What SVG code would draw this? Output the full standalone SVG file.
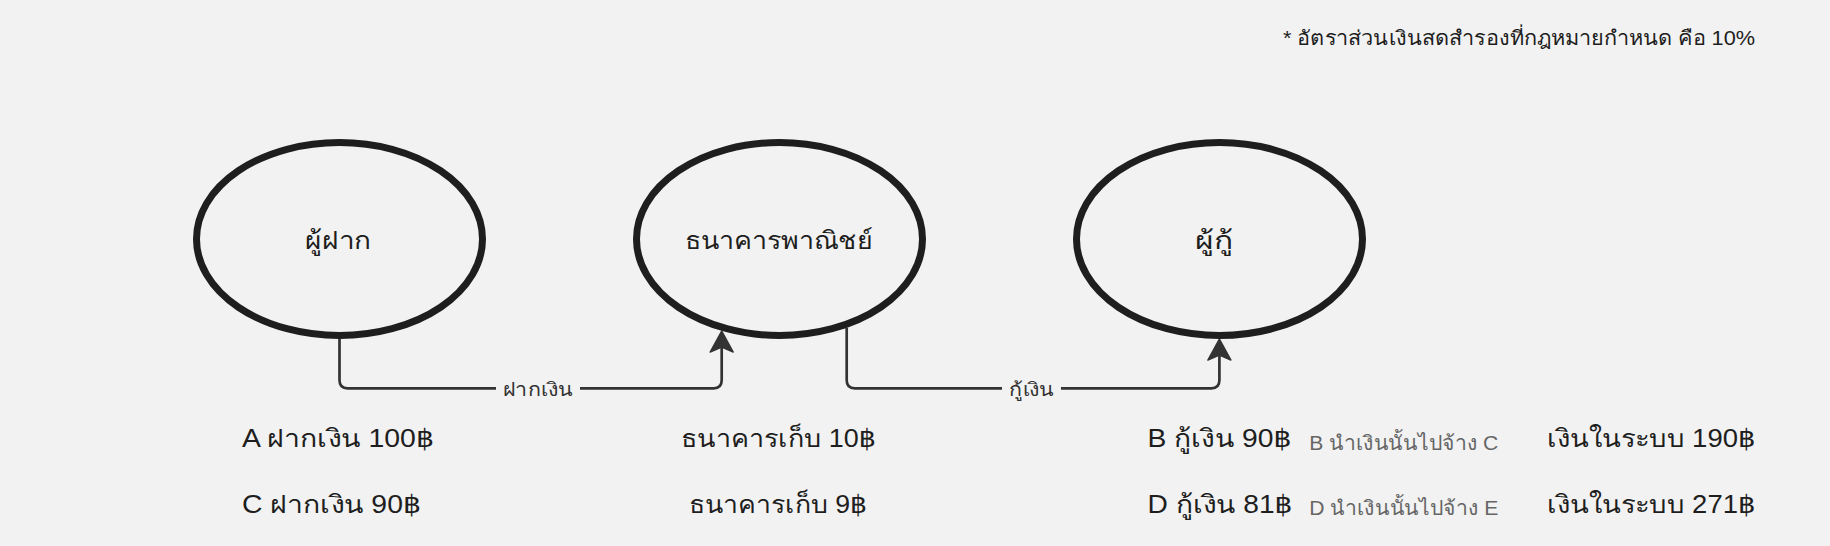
<svg xmlns="http://www.w3.org/2000/svg" width="1830" height="546" viewBox="0 0 1830 546">
<style>
  .bg { fill: #f2f2f2; }
  .node { fill: #f2f2f2; stroke: #1e1e1e; stroke-width: 7; }
  .ntext { font-family: "Liberation Sans", "Noto Sans", "DejaVu Sans", sans-serif; font-size: 25px; fill: #1e1e1e; text-anchor: middle; }
  .t { font-family: "Liberation Sans", "Noto Sans", "DejaVu Sans", sans-serif; font-size: 25px; fill: #1e1e1e; }
  .tc { text-anchor: middle; }
  .gray { font-size: 20px; fill: #666666; }
  .note { font-size: 20px; }
  .edge { fill: none; stroke: #333333; stroke-width: 2.7; }
  .lblbg { fill: #f2f2f2; }
  .lbl { font-family: "Liberation Sans", "Noto Sans", "DejaVu Sans", sans-serif; font-size: 19px; fill: #333333; text-anchor: middle; }
</style>
<defs>
  <marker id="arrow" markerUnits="userSpaceOnUse" viewBox="-23 -13 26 26" markerWidth="26" markerHeight="26" refX="-10" refY="0" orient="auto" overflow="visible">
    <path d="M0,0 L-21,-11.5 L-16,0 L-21,11.5 Z" fill="#333333" stroke="#333333" stroke-width="1.5" stroke-linejoin="round"/>
  </marker>
</defs>
<rect class="bg" x="0" y="0" width="1830" height="546"/>

<g id="connectors">
  <g id="edge-deposit">
    <path class="edge" d="M339.5 339 V380.3 Q339.5 388.3 347.5 388.3 H713.7 Q721.7 388.3 721.7 380.3 V341" marker-end="url(#arrow)"/>
    <rect class="lblbg" x="496" y="376" width="84" height="26"/>
    <text class="lbl" x="538" y="396" textLength="70" lengthAdjust="spacingAndGlyphs">ฝากเงิน</text>
  </g>
  <g id="edge-loan">
    <path class="edge" d="M846.7 328 V380.3 Q846.7 388.3 854.7 388.3 H1211.4 Q1219.4 388.3 1219.4 380.3 V349" marker-end="url(#arrow)"/>
    <rect class="lblbg" x="1002" y="376" width="59" height="26"/>
    <text class="lbl" x="1031.5" y="396" textLength="45" lengthAdjust="spacingAndGlyphs">กู้เงิน</text>
  </g>
</g>

<g id="node-depositor">
  <ellipse class="node" cx="339.5" cy="239" rx="143" ry="96.5"/>
  <text class="ntext" x="338" y="249" textLength="66" lengthAdjust="spacingAndGlyphs">ผู้ฝาก</text>
</g>
<g id="node-bank">
  <ellipse class="node" cx="779.5" cy="239" rx="143" ry="96.5"/>
  <text class="ntext" x="778.7" y="249" textLength="188" lengthAdjust="spacingAndGlyphs">ธนาคารพาณิชย์</text>
</g>
<g id="node-borrower">
  <ellipse class="node" cx="1219.5" cy="239" rx="143" ry="96.5"/>
  <text class="ntext" x="1214.3" y="249" textLength="38" lengthAdjust="spacingAndGlyphs">ผู้กู้</text>
</g>

<g id="notes">
  <text class="t note" x="1283" y="45" textLength="472" lengthAdjust="spacingAndGlyphs">* อัตราส่วนเงินสดสำรองที่กฎหมายกำหนด คือ 10%</text>
  <text class="t" x="242" y="447" textLength="192" lengthAdjust="spacingAndGlyphs">A ฝากเงิน 100฿</text>
  <text class="t" x="242" y="512.5" textLength="179" lengthAdjust="spacingAndGlyphs">C ฝากเงิน 90฿</text>
  <text class="t" x="681" y="447" textLength="195" lengthAdjust="spacingAndGlyphs">ธนาคารเก็บ 10฿</text>
  <text class="t" x="689" y="512.5" textLength="178" lengthAdjust="spacingAndGlyphs">ธนาคารเก็บ 9฿</text>
  <text class="t" x="1147.5" y="447" textLength="144" lengthAdjust="spacingAndGlyphs">B กู้เงิน 90฿</text>
  <text class="t gray" x="1309.3" y="450" textLength="189" lengthAdjust="spacingAndGlyphs">B นำเงินนั้นไปจ้าง C</text>
  <text class="t" x="1547" y="447" textLength="208.5" lengthAdjust="spacingAndGlyphs">เงินในระบบ 190฿</text>
  <text class="t" x="1147.5" y="512.5" textLength="145" lengthAdjust="spacingAndGlyphs">D กู้เงิน 81฿</text>
  <text class="t gray" x="1309.3" y="515" textLength="189" lengthAdjust="spacingAndGlyphs">D นำเงินนั้นไปจ้าง E</text>
  <text class="t" x="1547" y="512.5" textLength="208.5" lengthAdjust="spacingAndGlyphs">เงินในระบบ 271฿</text>
</g>
</svg>
